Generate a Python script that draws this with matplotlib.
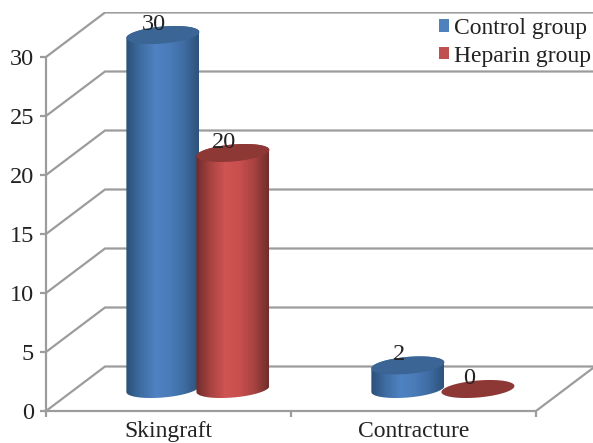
import numpy as np
import matplotlib
matplotlib.use("Agg")
import matplotlib.pyplot as plt
from matplotlib.colors import LinearSegmentedColormap
from matplotlib.patches import Polygon, Patch

categories = ["Skingraft", "Contracture"]
series_names = ["Control group", "Heparin group"]
control_values = [30, 2]
heparin_values = [20, 0]
y_ticks = [0, 5, 10, 15, 20, 25, 30]

W, H = 593, 443
plt.rcParams["font.family"] = ["Liberation Serif", "DejaVu Serif"]
fig = plt.figure(figsize=(W / 100, H / 100), dpi=100)

# front plane: x 46..536 px for 2 categories, y 411..57 px for 0..30
L, B, T = 46, 411, 12
ax = fig.add_axes([L / W, 1 - B / H, (W - L) / W, (B - T) / H])
px_x = (536 - L) / 2
px_y = (411 - 57) / 30
ax.set_xlim(0, (W - L) / px_x)
ax.set_ylim(0, (B - T) / px_y)
ax.patch.set_visible(False)

GREY = "#9c9c9c"
LW = 1.6
dx, dy = 59 / px_x, 44.5 / px_y
x_end = len(categories)

for v in y_ticks:
    ax.plot([0, dx, ax.get_xlim()[1]], [v, v + dy, v + dy], color=GREY, lw=LW, zorder=1,
            solid_joinstyle="miter")
ax.plot([x_end, x_end + dx], [0, dy], color=GREY, lw=LW, zorder=1)

for s in ("top", "right"):
    ax.spines[s].set_visible(False)
for s in ("left", "bottom"):
    ax.spines[s].set_color(GREY)
    ax.spines[s].set_linewidth(LW)
ax.spines["left"].set_bounds(0, 30)
ax.spines["bottom"].set_bounds(0, x_end)

TEXT = "#222222"
ax.set_yticks(y_ticks)
ax.set_yticklabels([str(v) for v in y_ticks], fontsize=17.5, color=TEXT)
ax.tick_params(axis="y", length=4, width=LW, color=GREY, pad=4.5)
ax.set_xticks(range(x_end + 1))
ax.set_xticklabels([])
ax.tick_params(axis="x", which="major", length=4, width=LW, color=GREY)
ax.set_xticks([i + 0.5 for i in range(x_end)], minor=True)
ax.set_xticklabels(categories, minor=True, fontsize=17, color=TEXT)
ax.tick_params(axis="x", which="minor", length=0, pad=7.5)

bar_w = 73 / px_x
base = 22 / px_y
b = 8.5 / px_y
shear = 3 / px_y
group_center = 0.62
spread = 0.143

blue = LinearSegmentedColormap.from_list("b", ["#2c5078", "#3f6da3", "#4f82c2", "#4a7cb9", "#3f6ca2", "#2d527c"])
red = LinearSegmentedColormap.from_list("r", ["#6f2c2b", "#a84442", "#cf5452", "#c84f4d", "#a74341", "#702d2c"])
tops = ["#3a6595", "#8e3836"]
xlim, ylim = ax.get_xlim(), ax.get_ylim()
grad = np.linspace(0, 1, 128).reshape(1, -1)


def ellipse(cx, cy, t):
    return np.column_stack([cx + bar_w / 2 * np.cos(t),
                            cy + b * np.sin(t) + shear * np.cos(t)])


for s, (vals, cmap, top) in enumerate(zip([control_values, heparin_values], [blue, red], tops)):
    for i, v in enumerate(vals):
        cx = i + group_center + (s - 0.5) * 2 * spread
        cy0 = base
        cy1 = base + v
        if v > 0:
            lower = ellipse(cx, cy0, np.linspace(np.pi, 2 * np.pi, 60))
            upper = ellipse(cx, cy1, np.linspace(0, np.pi, 60))
            body = Polygon(np.vstack([lower, upper]), closed=True, transform=ax.transData,
                           fc="none", ec="none")
            ax.add_patch(body)
            im = ax.imshow(grad, cmap=cmap, aspect="auto", zorder=3 + s + i * 0.1,
                           extent=[cx - bar_w / 2, cx + bar_w / 2, cy0 - 2, cy1 + 2])
            im.set_clip_path(body)
        cap = Polygon(ellipse(cx, cy1, np.linspace(0, 2 * np.pi, 120)), closed=True,
                      fc=top, ec="none", zorder=3.05 + s + i * 0.1)
        ax.add_patch(cap)
        ax.annotate(str(v), (cx, cy1), xytext=(-6.5, 7.5), textcoords="offset points",
                    ha="center", va="center", fontsize=17.5, color=TEXT, zorder=8)

ax.set_xlim(xlim)
ax.set_ylim(ylim)

handles = [Patch(fc="#4f81bd", ec="none"), Patch(fc="#c0504d", ec="none")]
fig.legend(handles, series_names, loc="upper left", bbox_to_anchor=(439 / W, 1 - 18 / H),
           frameon=False, fontsize=17, handlelength=0.42, handleheight=0.42,
           handletextpad=0.22, labelspacing=0.28, labelcolor=TEXT,
           borderpad=0, borderaxespad=0)

fig.savefig("out.png", dpi=100)
